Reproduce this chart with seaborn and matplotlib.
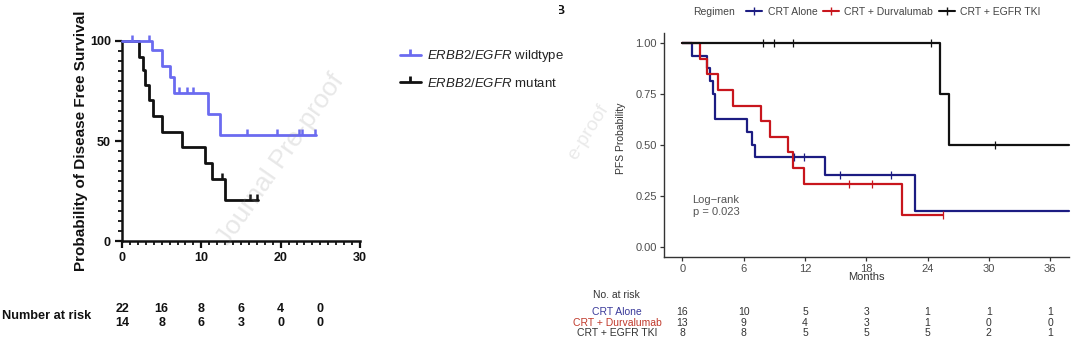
import numpy as np
import pandas as pd
import matplotlib
matplotlib.use("Agg")
import matplotlib.pyplot as plt
import matplotlib.transforms as mtrans
from matplotlib.lines import Line2D
from matplotlib.patches import Rectangle
from matplotlib.ticker import MultipleLocator
import seaborn as sns

# ---------------- Panel A: disease-free survival (%) by ERBB2/EGFR status
wt_time = [0, 3.8, 5.0, 6.1, 6.5, 10.8, 12.3, 24.5]
wt_surv = [100, 95.5, 87.5, 82, 74, 63.5, 53, 53]
wt_cens = [1.2, 3.4, 7.2, 8.2, 9.0, 15.7, 19.6, 22.3, 22.7, 24.3]

mut_time = [0, 2.2, 2.6, 2.9, 3.4, 3.9, 5.0, 7.6, 10.4, 11.4, 13.0, 17.1]
mut_surv = [100, 92, 85.5, 78, 70.5, 62.5, 54.5, 47, 39, 31, 20.5, 20.5]
mut_cens = [12.6, 16.1, 17.0]

risk_a_months = [0, 5, 10, 15, 20, 25]
risk_a_wt = [22, 16, 8, 6, 4, 0]
risk_a_mut = [14, 8, 6, 3, 0, 0]

# ---------------- Panel B: PFS probability by treatment regimen
alone_time = [0, 0.9, 2.43, 2.7, 2.95, 3.18, 6.35, 6.77, 7.1, 14.0, 22.8, 37.85]
alone_surv = [1, 0.9375, 0.875, 0.8125, 0.75, 0.625, 0.5625, 0.5, 0.4375, 0.35, 0.175, 0.175]
alone_cens = [10.9, 11.9, 15.4, 20.4]

durva_time = [0, 1.75, 2.37, 3.45, 4.98, 7.66, 8.57, 10.36, 10.85, 11.95, 21.5, 25.5]
durva_surv = [1, 0.923, 0.846, 0.769, 0.692, 0.615, 0.538, 0.462, 0.385, 0.308, 0.154, 0.154]
durva_cens = [16.3, 18.6, 25.5]

tki_time = [0, 25.2, 26.1, 37.85]
tki_surv = [1, 0.75, 0.5, 0.5]
tki_cens = [7.85, 8.93, 10.85, 24.3, 30.6]

risk_b_months = [0, 6, 12, 18, 24, 30, 36]
risk_b_alone = [16, 10, 5, 3, 1, 1, 1]
risk_b_durva = [13, 9, 4, 3, 1, 0, 0]
risk_b_tki = [8, 8, 5, 5, 5, 2, 1]

regimens = ["CRT Alone", "CRT + Durvalumab", "CRT + EGFR TKI"]

# ---------------- style
sns.set_style("ticks")
plt.rcParams["font.family"] = ["Liberation Sans", "DejaVu Sans"]
plt.rcParams["mathtext.fontset"] = "custom"
plt.rcParams["mathtext.rm"] = "Liberation Sans"
plt.rcParams["mathtext.it"] = "Liberation Sans:italic"

W, H = 1080, 342
fig = plt.figure(figsize=(W / 100, H / 100), dpi=100)
fig.patch.set_facecolor("white")


def fx(px):
    return px / W


def fy(py):
    return 1 - py / H


def level_at(times, surv, t):
    idx = np.searchsorted(np.asarray(times), np.asarray(t), side="right") - 1
    return np.asarray(surv)[idx]


# =============== Panel A ===============
ax1 = fig.add_axes([fx(122), fy(241.3), (360 - 122) / W, (241.3 - 40.7) / H])
ax1.patch.set_alpha(0)

wt_col = "#6b6bf0"
mut_col = "#111111"
for t, s, cens, col in [(mut_time, mut_surv, mut_cens, mut_col),
                        (wt_time, wt_surv, wt_cens, wt_col)]:
    sns.lineplot(x=t, y=s, drawstyle="steps-post", estimator=None, color=col,
                 linewidth=2.0, ax=ax1, clip_on=False, zorder=3)
    sns.scatterplot(x=cens, y=level_at(t, s, cens), marker=2, s=16, color=col,
                    linewidth=1.8, ax=ax1, clip_on=False, zorder=4)

ax1.set_xlim(0, 30)
ax1.set_ylim(0, 100)
sns.despine(ax=ax1)
for sp in ["left", "bottom"]:
    ax1.spines[sp].set_linewidth(1.8)
    ax1.spines[sp].set_color("#111111")
ax1.set_xticks([0, 10, 20, 30])
ax1.set_yticks([0, 50, 100])
ax1.xaxis.set_minor_locator(MultipleLocator(1))
ax1.yaxis.set_minor_locator(MultipleLocator(5))
ax1.tick_params(which="major", length=5, width=1.6, color="#111111",
                labelsize=9, pad=3, labelcolor="#111111")
ax1.tick_params(which="minor", length=3, width=1.3, color="#111111")
for lab in ax1.get_xticklabels() + ax1.get_yticklabels():
    lab.set_fontweight("bold")
ax1.set_xlabel("")
ax1.set_ylabel("Probability of Disease Free Survival", fontsize=11,
               fontweight="bold", color="#111111")
ax1.yaxis.set_label_coords((88 - 122) / 238, 0.5)

# legend for panel A
leg_a_handles = [
    Line2D([], [], color=wt_col, lw=2, marker=2, markersize=4, markeredgewidth=2),
    Line2D([], [], color=mut_col, lw=2, marker=2, markersize=4, markeredgewidth=2),
]
leg_a_labels = [r"$\mathit{ERBB2/EGFR}$ wildtype", r"$\mathit{ERBB2/EGFR}$ mutant"]
fig.legend(leg_a_handles, leg_a_labels, loc="center left",
           bbox_to_anchor=(fx(393), fy(69)), frameon=False, fontsize=9.5,
           handlelength=1.6, handletextpad=0.5, labelspacing=0.95,
           borderpad=0, labelcolor="#222222")

# number at risk, panel A
xa_fig = mtrans.blended_transform_factory(ax1.transData, fig.transFigure)
fig.text(fx(2), fy(316), "Number at risk", fontsize=9.2, fontweight="bold",
         ha="left", va="center", color="#111111")
for row_y, vals in [(309.5, risk_a_wt), (323, risk_a_mut)]:
    for m, v in zip(risk_a_months, vals):
        fig.text(m, fy(row_y), str(v), transform=xa_fig, fontsize=9,
                 fontweight="bold", ha="center", va="center",
                 color="#111111")

# =============== Panel B ===============
ax2 = fig.add_axes([fx(664), fy(256.7), (1069 - 664) / W, (256.7 - 32.8) / H])
ax2.patch.set_alpha(0)

alone_col = "#1c1c82"
durva_col = "#c8161d"
tki_col = "#111111"
series_b = [(alone_time, alone_surv, alone_cens, alone_col),
            (durva_time, durva_surv, durva_cens, durva_col),
            (tki_time, tki_surv, tki_cens, tki_col)]
for t, s, cens, col in series_b:
    sns.lineplot(x=t, y=s, drawstyle="steps-post", estimator=None, color=col,
                 linewidth=1.6, ax=ax2, clip_on=False, zorder=3)
    sns.scatterplot(x=cens, y=level_at(t, s, cens), marker="|", s=32, color=col,
                    linewidth=0.9, ax=ax2, clip_on=False, zorder=4)

ax2.set_xlim(-1.8, 37.85)
ax2.set_ylim(-0.05, 1.05)
sns.despine(ax=ax2)
for sp in ["left", "bottom"]:
    ax2.spines[sp].set_linewidth(1.0)
    ax2.spines[sp].set_color("#333333")
ax2.set_xticks(risk_b_months)
ax2.set_yticks([0, 0.25, 0.5, 0.75, 1.0])
ax2.set_yticklabels(["0.00", "0.25", "0.50", "0.75", "1.00"])
ax2.tick_params(length=3, width=0.9, color="#333333", labelcolor="#4d4d4d",
                labelsize=8, pad=2)
ax2.set_xlabel("Months", fontsize=8, color="#333333")
ax2.xaxis.set_label_coords(0.5, (256.7 - 271.5) / 223.9)
ax2.set_ylabel("PFS Probability", fontsize=7.5, color="#333333")
ax2.yaxis.set_label_coords((626 - 664) / 405, 0.53)

ax2.text(1.0, 0.2, "Log\u2212rank\np = 0.023", fontsize=8, color="#555555",
         ha="left", va="center", linespacing=1.25)

# legend for panel B
fig.text(fx(693), fy(12), "Regimen", fontsize=7.5, color="#444444",
         ha="left", va="center")
leg_b_handles = [Line2D([], [], color=c, lw=1.5, marker="|", markersize=6,
                        markeredgewidth=1.0)
                 for c in (alone_col, durva_col, tki_col)]
fig.legend(leg_b_handles, regimens, loc="center left", ncol=3,
           bbox_to_anchor=(fx(741), fy(12)), frameon=False, fontsize=7.5,
           handlelength=1.5, handletextpad=0.55, columnspacing=0.55,
           borderpad=0, labelcolor="#444444")

# number at risk, panel B
xb_fig = mtrans.blended_transform_factory(ax2.transData, fig.transFigure)
fig.text(fx(593), fy(295), "No. at risk", fontsize=7.5, color="#333333",
         ha="left", va="center")
row_cols = ["#3a3a9a", "#c0392b", "#333333"]
for row_y, name, col, vals in zip([311.7, 322.7, 332.7], regimens, row_cols,
                                  [risk_b_alone, risk_b_durva, risk_b_tki]):
    fig.text(fx(617), fy(row_y), name, fontsize=7.5, color=col,
             ha="center", va="center")
    for m, v in zip(risk_b_months, vals):
        fig.text(m, fy(row_y), str(v), transform=xb_fig, fontsize=7.5,
                 color="#333333", ha="center", va="center")

# panel letter, partly cut at its left edge
letter = fig.text(fx(555), fy(10.5), "B", fontsize=9, fontweight="bold",
                  ha="left", va="center", color="#111111")
letter.set_clip_path(Rectangle((fx(558.5), 0), 1, 1, transform=fig.transFigure))

# faint watermark text
fig.text(fx(281), fy(160), "Journal Pre-proof", rotation=55, fontsize=19,
         color="#8a8a8a", alpha=0.2, ha="center", va="center", zorder=5)
fig.text(fx(588), fy(132), "e-proof", rotation=58, fontsize=14,
         color="#8a8a8a", alpha=0.18, ha="center", va="center", zorder=5)

fig.savefig("out.png", dpi=100, facecolor="white")
